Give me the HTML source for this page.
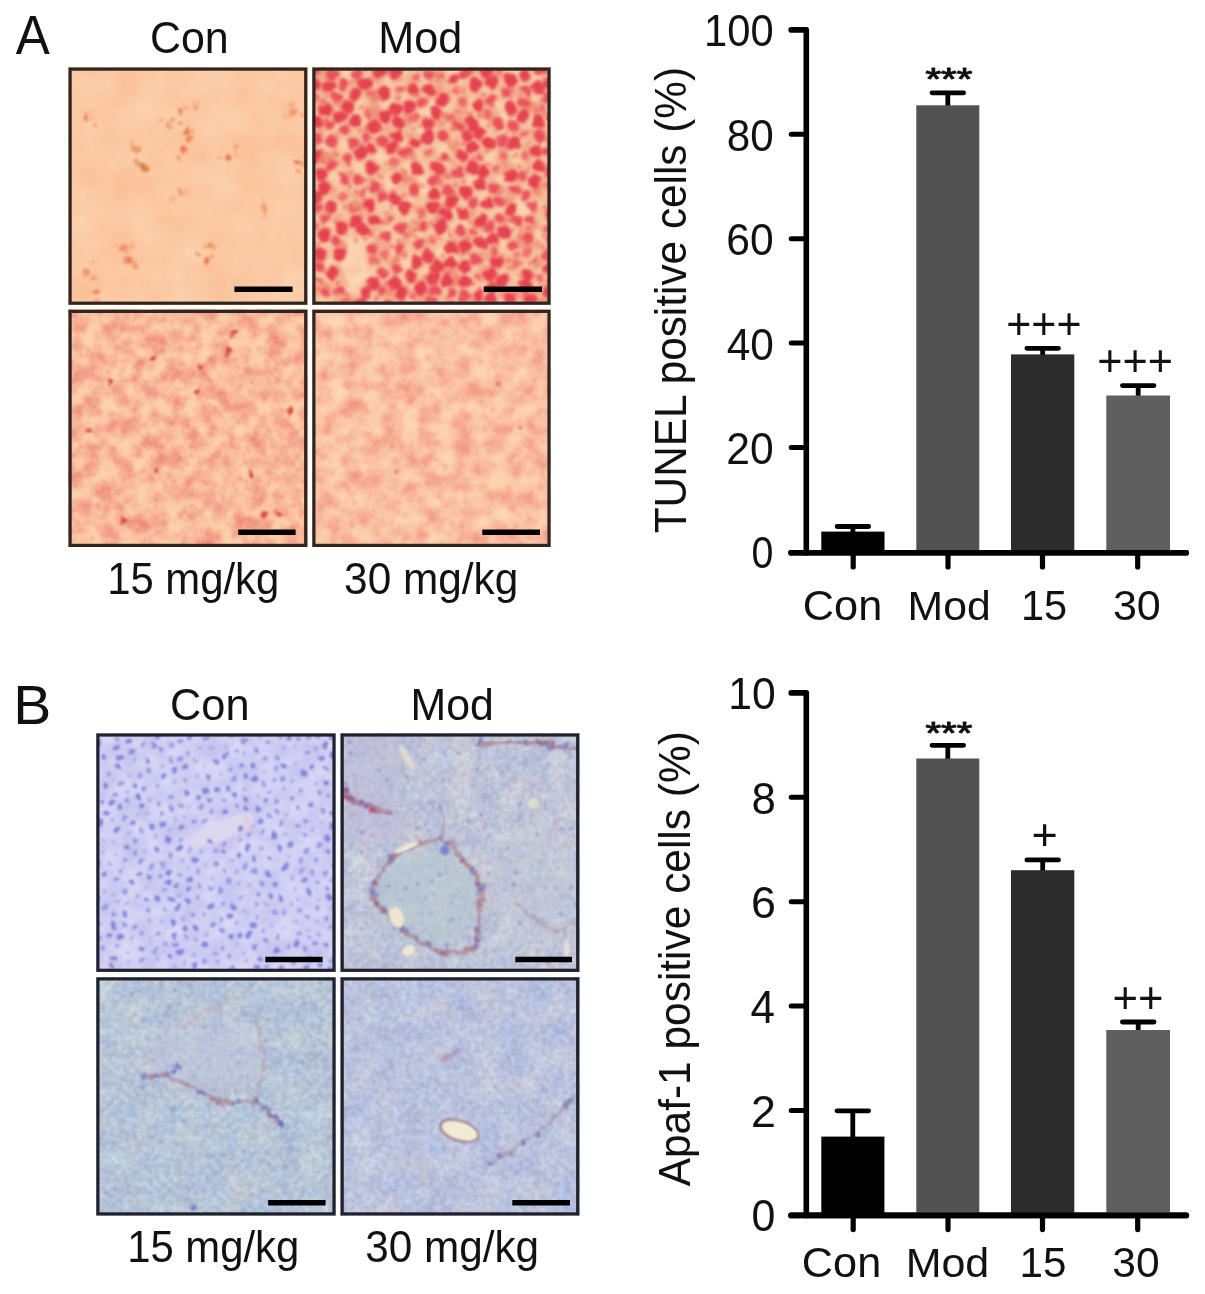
<!DOCTYPE html>
<html lang="en"><head><meta charset="utf-8"><title>Figure</title>
<style>html,body{margin:0;padding:0;background:#fff}svg{display:block}</style></head>
<body>
<svg width="1205" height="1294" viewBox="0 0 1205 1294" font-family="'Liberation Sans', sans-serif" fill="#111">
<defs>
<filter id="fA1" x="0" y="0" width="100%" height="100%" color-interpolation-filters="sRGB">
 <feTurbulence type="fractalNoise" baseFrequency="0.03" numOctaves="3" seed="3"/>
 <feColorMatrix type="matrix" values="0 0 0 0 0.985  0.10 0 0 0 0.738  0.14 0 0 0 0.57  0 0 0 0 1"/>
</filter>
<filter id="fA2" x="0" y="0" width="100%" height="100%" color-interpolation-filters="sRGB">
 <feTurbulence type="fractalNoise" baseFrequency="0.06" numOctaves="2" seed="5"/>
 <feColorMatrix type="matrix" values="1 0 0 0 0  1 0 0 0 0  1 0 0 0 0  0 0 0 0 1"/>
 <feComponentTransfer>
  <feFuncR type="table" tableValues=".93 .935 .94 .95 .96 .97 .975 .98 .985 .985 .985"/>
  <feFuncG type="table" tableValues=".50 .53 .57 .63 .70 .76 .80 .825 .835 .835 .835"/>
  <feFuncB type="table" tableValues=".42 .44 .47 .52 .57 .62 .655 .675 .685 .685 .685"/>
 </feComponentTransfer>
</filter>
<filter id="fA3" x="0" y="0" width="100%" height="100%" color-interpolation-filters="sRGB">
 <feTurbulence type="fractalNoise" baseFrequency="0.06" numOctaves="3" seed="7"/>
 <feColorMatrix type="matrix" values="1 0 0 0 0  1 0 0 0 0  1 0 0 0 0  0 0 0 0 1"/>
 <feComponentTransfer>
  <feFuncR type="table" tableValues=".92 .93 .94 .955 .965 .975 .985 .99 .99 .99 .99"/>
  <feFuncG type="table" tableValues=".50 .54 .58 .63 .68 .73 .775 .81 .825 .83 .83"/>
  <feFuncB type="table" tableValues=".44 .47 .50 .54 .575 .61 .64 .665 .675 .68 .68"/>
 </feComponentTransfer>
</filter>
<filter id="fA4" x="0" y="0" width="100%" height="100%" color-interpolation-filters="sRGB">
 <feTurbulence type="fractalNoise" baseFrequency="0.055" numOctaves="3" seed="11"/>
 <feColorMatrix type="matrix" values="1 0 0 0 0  1 0 0 0 0  1 0 0 0 0  0 0 0 0 1"/>
 <feComponentTransfer>
  <feFuncR type="table" tableValues=".94 .945 .955 .965 .975 .98 .985 .99 .99 .99 .99"/>
  <feFuncG type="table" tableValues=".56 .59 .63 .67 .715 .755 .79 .82 .835 .84 .84"/>
  <feFuncB type="table" tableValues=".49 .515 .545 .575 .61 .64 .665 .685 .695 .70 .70"/>
 </feComponentTransfer>
</filter>
<filter id="fB1" x="0" y="0" width="100%" height="100%" color-interpolation-filters="sRGB">
 <feTurbulence type="fractalNoise" baseFrequency="0.05" numOctaves="3" seed="2"/>
 <feColorMatrix type="matrix" values="0.14 0 0 0 0.745  0.14 0 0 0 0.735  0.05 0 0 0 0.925  0 0 0 0 1"/>
</filter>
<filter id="fB2" x="0" y="0" width="100%" height="100%" color-interpolation-filters="sRGB">
 <feTurbulence type="fractalNoise" baseFrequency="0.04" numOctaves="3" seed="9"/>
 <feColorMatrix type="matrix" values="0.16 0 0 0 0.673  0.12 0.06 0 0 0.683  0 0.06 0 0 0.805  0 0 0 0 1" result="a"/>
 <feTurbulence type="fractalNoise" baseFrequency="0.17" numOctaves="2" seed="4"/>
 <feColorMatrix type="matrix" values="0.16 0 0 0 0  0.16 0 0 0 0  0.16 0 0 0 0.012  0 0 0 0 1" result="g"/>
 <feComposite in="a" in2="g" operator="arithmetic" k1="0" k2="1" k3="1" k4="-0.08"/>
</filter>
<filter id="fB3" x="0" y="0" width="100%" height="100%" color-interpolation-filters="sRGB">
 <feTurbulence type="fractalNoise" baseFrequency="0.04" numOctaves="3" seed="13"/>
 <feColorMatrix type="matrix" values="0.16 0 0 0 0.638  0.12 0.06 0 0 0.683  0 0.06 0 0 0.801  0 0 0 0 1" result="a"/>
 <feTurbulence type="fractalNoise" baseFrequency="0.17" numOctaves="2" seed="5"/>
 <feColorMatrix type="matrix" values="0.16 0 0 0 0  0.16 0 0 0 0  0.16 0 0 0 0.012  0 0 0 0 1" result="g"/>
 <feComposite in="a" in2="g" operator="arithmetic" k1="0" k2="1" k3="1" k4="-0.08"/>
</filter>
<filter id="fB4" x="0" y="0" width="100%" height="100%" color-interpolation-filters="sRGB">
 <feTurbulence type="fractalNoise" baseFrequency="0.04" numOctaves="3" seed="17"/>
 <feColorMatrix type="matrix" values="0.16 0 0 0 0.653  0.12 0.06 0 0 0.675  0 0.06 0 0 0.825  0 0 0 0 1" result="a"/>
 <feTurbulence type="fractalNoise" baseFrequency="0.17" numOctaves="2" seed="6"/>
 <feColorMatrix type="matrix" values="0.16 0 0 0 0  0.16 0 0 0 0  0.16 0 0 0 0.012  0 0 0 0 1" result="g"/>
 <feComposite in="a" in2="g" operator="arithmetic" k1="0" k2="1" k3="1" k4="-0.08"/>
</filter>
<filter id="blob" x="-5%" y="-5%" width="110%" height="110%" color-interpolation-filters="sRGB">
 <feTurbulence type="fractalNoise" baseFrequency="0.09" numOctaves="2" seed="8" result="t"/>
 <feDisplacementMap in="SourceGraphic" in2="t" scale="9" xChannelSelector="R" yChannelSelector="G"/>
 <feGaussianBlur stdDeviation="1.5"/>
</filter>
<filter id="rough" x="-5%" y="-5%" width="110%" height="110%" color-interpolation-filters="sRGB">
 <feTurbulence type="fractalNoise" baseFrequency="0.12" numOctaves="2" seed="21" result="t"/>
 <feDisplacementMap in="SourceGraphic" in2="t" scale="7" xChannelSelector="R" yChannelSelector="G"/>
 <feGaussianBlur stdDeviation="1.3"/>
</filter>
<filter id="bl05" color-interpolation-filters="sRGB"><feGaussianBlur stdDeviation="0.5"/></filter>
<filter id="bl08" color-interpolation-filters="sRGB"><feGaussianBlur stdDeviation="0.9"/></filter>
<filter id="bl1" color-interpolation-filters="sRGB"><feGaussianBlur stdDeviation="1"/></filter>
<filter id="bl15" color-interpolation-filters="sRGB"><feGaussianBlur stdDeviation="1.5"/></filter>
<filter id="bl2" color-interpolation-filters="sRGB"><feGaussianBlur stdDeviation="2.2"/></filter>
<filter id="bl4" color-interpolation-filters="sRGB"><feGaussianBlur stdDeviation="5"/></filter>
</defs>

<clipPath id="cp1"><rect x="69.5" y="68.5" width="236.8" height="235.3"/></clipPath><rect x="68.5" y="67.5" width="238.8" height="237.3" filter="url(#fA1)"/><g clip-path="url(#cp1)"><g transform="translate(68.5 67.5)"><g filter="url(#rough)"><circle cx="112" cy="45" r="2.9" fill="#ec7a54" opacity="0.85"/><circle cx="118" cy="65" r="3.5" fill="#e07a44" opacity="0.85"/><circle cx="115" cy="82" r="4.0" fill="#ee6e50" opacity="0.85"/><circle cx="160" cy="90" r="3.9" fill="#ea7050" opacity="0.85"/><circle cx="76" cy="100" r="3.9" fill="#d87c40" opacity="0.85"/><circle cx="68" cy="82" r="3.9" fill="#e89060" opacity="0.85"/><circle cx="18" cy="50" r="3.0" fill="#f0845c" opacity="0.85"/><circle cx="55" cy="180" r="3.9" fill="#f08a64" opacity="0.85"/><circle cx="60" cy="192" r="3.7" fill="#ee7850" opacity="0.85"/><circle cx="138" cy="192" r="2.7" fill="#ec7450" opacity="0.85"/><circle cx="142" cy="178" r="2.6" fill="#e69050" opacity="0.85"/><circle cx="195" cy="142" r="2.6" fill="#ea9458" opacity="0.85"/><circle cx="225" cy="45" r="3.8" fill="#f09468" opacity="0.85"/><circle cx="230" cy="95" r="3.0" fill="#ee7450" opacity="0.85"/><circle cx="28" cy="225" r="2.8" fill="#ee7850" opacity="0.85"/><circle cx="18" cy="205" r="3.6" fill="#f08a64" opacity="0.85"/><circle cx="112" cy="125" r="3.2" fill="#f0a070" opacity="0.85"/><circle cx="128" cy="40" r="2.7" fill="#f0a478" opacity="0.85"/><circle cx="100" cy="58" r="2.9" fill="#f0a070" opacity="0.85"/><circle cx="105" cy="52" r="2.3" fill="#ec7a54" opacity="0.5"/><circle cx="117" cy="40" r="1.8" fill="#ec7a54" opacity="0.5"/><circle cx="112" cy="44" r="2.0" fill="#ec7a54" opacity="0.5"/><circle cx="121" cy="71" r="2.6" fill="#e07a44" opacity="0.5"/><circle cx="111" cy="56" r="2.2" fill="#e07a44" opacity="0.5"/><circle cx="124" cy="64" r="2.1" fill="#e07a44" opacity="0.5"/><circle cx="120" cy="72" r="2.3" fill="#ee6e50" opacity="0.5"/><circle cx="114" cy="86" r="1.6" fill="#ee6e50" opacity="0.5"/><circle cx="110" cy="91" r="2.1" fill="#ee6e50" opacity="0.5"/><circle cx="167" cy="81" r="2.2" fill="#ea7050" opacity="0.5"/><circle cx="151" cy="91" r="1.9" fill="#ea7050" opacity="0.5"/><circle cx="168" cy="88" r="1.8" fill="#ea7050" opacity="0.5"/><circle cx="71" cy="98" r="2.9" fill="#d87c40" opacity="0.5"/><circle cx="68" cy="94" r="2.3" fill="#d87c40" opacity="0.5"/><circle cx="75" cy="100" r="1.9" fill="#d87c40" opacity="0.5"/><circle cx="63" cy="77" r="2.4" fill="#e89060" opacity="0.5"/><circle cx="63" cy="81" r="2.7" fill="#e89060" opacity="0.5"/><circle cx="64" cy="72" r="1.6" fill="#e89060" opacity="0.5"/><circle cx="24" cy="51" r="1.6" fill="#f0845c" opacity="0.5"/><circle cx="21" cy="44" r="1.8" fill="#f0845c" opacity="0.5"/><circle cx="27" cy="57" r="2.6" fill="#f0845c" opacity="0.5"/><circle cx="48" cy="177" r="1.8" fill="#f08a64" opacity="0.5"/><circle cx="59" cy="184" r="2.6" fill="#f08a64" opacity="0.5"/><circle cx="63" cy="178" r="2.5" fill="#f08a64" opacity="0.5"/><circle cx="66" cy="195" r="2.4" fill="#ee7850" opacity="0.5"/><circle cx="56" cy="194" r="1.9" fill="#ee7850" opacity="0.5"/><circle cx="67" cy="199" r="3.0" fill="#ee7850" opacity="0.5"/><circle cx="138" cy="194" r="2.7" fill="#ec7450" opacity="0.5"/><circle cx="130" cy="187" r="2.3" fill="#ec7450" opacity="0.5"/><circle cx="143" cy="190" r="1.9" fill="#ec7450" opacity="0.5"/><circle cx="136" cy="179" r="2.5" fill="#e69050" opacity="0.5"/><circle cx="146" cy="181" r="2.2" fill="#e69050" opacity="0.5"/><circle cx="140" cy="177" r="2.4" fill="#e69050" opacity="0.5"/><circle cx="195" cy="148" r="2.0" fill="#ea9458" opacity="0.5"/><circle cx="195" cy="140" r="2.5" fill="#ea9458" opacity="0.5"/><circle cx="195" cy="133" r="1.7" fill="#ea9458" opacity="0.5"/><circle cx="217" cy="49" r="2.0" fill="#f09468" opacity="0.5"/><circle cx="234" cy="47" r="3.0" fill="#f09468" opacity="0.5"/><circle cx="223" cy="38" r="2.8" fill="#f09468" opacity="0.5"/><circle cx="230" cy="105" r="2.0" fill="#ee7450" opacity="0.5"/><circle cx="235" cy="96" r="2.8" fill="#ee7450" opacity="0.5"/><circle cx="236" cy="90" r="2.0" fill="#ee7450" opacity="0.5"/><circle cx="28" cy="234" r="2.9" fill="#ee7850" opacity="0.5"/><circle cx="29" cy="224" r="2.6" fill="#ee7850" opacity="0.5"/><circle cx="24" cy="226" r="2.2" fill="#ee7850" opacity="0.5"/><circle cx="26" cy="195" r="2.0" fill="#f08a64" opacity="0.5"/><circle cx="23" cy="211" r="1.6" fill="#f08a64" opacity="0.5"/><circle cx="25" cy="210" r="2.8" fill="#f08a64" opacity="0.5"/><circle cx="118" cy="125" r="1.7" fill="#f0a070" opacity="0.5"/><circle cx="113" cy="124" r="2.7" fill="#f0a070" opacity="0.5"/><circle cx="104" cy="132" r="2.9" fill="#f0a070" opacity="0.5"/><circle cx="129" cy="34" r="2.4" fill="#f0a478" opacity="0.5"/><circle cx="128" cy="40" r="1.8" fill="#f0a478" opacity="0.5"/><circle cx="125" cy="37" r="2.8" fill="#f0a478" opacity="0.5"/><circle cx="101" cy="60" r="3.0" fill="#f0a070" opacity="0.5"/><circle cx="102" cy="57" r="2.6" fill="#f0a070" opacity="0.5"/><circle cx="92" cy="53" r="2.3" fill="#f0a070" opacity="0.5"/></g></g></g><rect x="70.10" y="69.10" width="235.60" height="234.10" fill="none" stroke="#2e2622" stroke-width="3.2"/><path d="M234.4 289.2H292.6" stroke="#000" stroke-width="5.4"/>
<clipPath id="cp2"><rect x="313.3" y="68.5" width="236.3" height="235.3"/></clipPath><rect x="312.3" y="67.5" width="238.3" height="237.3" filter="url(#fA2)"/><g clip-path="url(#cp2)"><g transform="translate(312.3 67.5)"><ellipse cx="43" cy="198" rx="13" ry="20" fill="#fbd6b4" opacity="0.8" filter="url(#bl2)"/><g filter="url(#blob)"><path d="M104 75h0M222 114h0M13 43h0M52 16h0M120 210h0M130 33h0M172 105h0M43 54h0M152 214h0M242 173h0M89 226h0M239 104h0M163 17h0M224 242h0M51 163h0M213 218h0M36 39h0M133 146h0M167 66h0M239 148h0M84 69h0M210 49h0M178 75h0M213 7h0M116 70h0M48 86h0M9 107h0M154 125h0M4 55h0M104 194h0M109 242h0M138 196h0M56 137h0M129 159h0M165 228h0M139 181h0M238 200h0M126 199h0M92 140h0M124 45h0M9 186h0M179 232h0M242 49h0M62 59h0M150 89h0M169 176h0M165 38h0M152 198h0M4 129h0M160 100h0M191 213h0M198 108h0M82 216h0M198 142h0M67 4h0M198 40h0M192 165h0M153 241h0M218 231h0M72 25h0M19 140h0M104 102h0M197 231h0M116 189h0M175 136h0M202 75h0M168 117h0M236 225h0M2 18h0M116 23h0M226 19h0M150 146h0M242 129h0M62 152h0M76 240h0M226 54h0M181 172h0M60 101h0M238 16h0M160 56h0M97 39h0M20 205h0M135 213h0M121 140h0M2 89h0M226 99h0M48 236h0M83 131h0M180 220h0M173 3h0M225 83h0M160 80h0M84 42h0M178 207h0M99 208h0M184 195h0M62 215h0M153 179h0M241 71h0M198 12h0M115 57h0M27 50h0M168 153h0M122 126h0M140 134h0M29 160h0M179 15h0M125 101h0M86 55h0M84 111h0M101 21h0M27 186h0M82 4h0M12 120h0M73 48h0M215 206h0M109 220h0M141 11h0M154 68h0M80 81h0M44 27h0M54 225h0M59 81h0M12 169h0M16 18h0M42 154h0M106 177h0M74 168h0M205 152h0M178 159h0M187 133h0M90 240h0M235 188h0M62 241h0M213 129h0M179 32h0M240 213h0M162 137h0M190 74h0M121 113h0M84 202h0M212 36h0M5 3h0M70 130h0M110 158h0M229 3h0M193 25h0M131 68h0M116 6h0M214 23h0M88 181h0M45 112h0M186 150h0M235 30h0M14 225h0M186 55h0M3 240h0M22 7h0M25 29h0M36 92h0M133 90h0M146 59h0M70 205h0M200 58h0M7 199h0M61 180h0M53 69h0M17 57h0M138 240h0M240 117h0M201 178h0M92 86h0M181 121h0M190 241h0M218 152h0M146 105h0M139 226h0M119 234h0M18 98h0M210 109h0M237 239h0M151 229h0M152 6h0M32 112h0M221 139h0M41 75h0M217 170h0M31 17h0M148 163h0M89 161h0M71 224h0M237 84h0M202 122h0M44 6h0M6 71h0M27 223h0M62 119h0M102 123h0M25 173h0M135 123h0M211 241h0M13 152h0M5 141h0M70 74h0M109 35h0M33 62h0M19 75h0M227 68h0M163 192h0M124 223h0M40 142h0M166 209h0M213 87h0M202 196h0M31 129h0M77 152h0M60 193h0M72 188h0M55 45h0M212 67h0M223 194h0M149 35h0M101 51h0M5 212h0M168 90h0M81 95h0M101 228h0M20 240h0M180 184h0M109 145h0M59 27h0M213 185h0M4 30h0M191 89h0M175 46h0M104 9h0M3 159h0M187 4h0M144 24h0M116 84h0M227 210h0M129 8h0M162 165h0M234 162h0M139 49h0M33 234h0M87 22h0M230 41h0M167 240h0M184 100h0M50 125h0M119 174h0" stroke="#f08070" stroke-width="16" stroke-linecap="round" fill="none" opacity="0.18"/><path d="M104 75h0M222 114h0M13 43h0M52 16h0M120 210h0M130 33h0M172 105h0M43 54h0M152 214h0M242 173h0M89 226h0M239 104h0M163 17h0M224 242h0M51 163h0M213 218h0M36 39h0M133 146h0M167 66h0M239 148h0M84 69h0M210 49h0M178 75h0M213 7h0M116 70h0M48 86h0M9 107h0M154 125h0M4 55h0M104 194h0M109 242h0M138 196h0M56 137h0M129 159h0M165 228h0M139 181h0M238 200h0M126 199h0M92 140h0M124 45h0M9 186h0M179 232h0M242 49h0M62 59h0M150 89h0M169 176h0M165 38h0M152 198h0M4 129h0M160 100h0M191 213h0M198 108h0M82 216h0M198 142h0M67 4h0M198 40h0M192 165h0M153 241h0M218 231h0M72 25h0M19 140h0M104 102h0M197 231h0M116 189h0M175 136h0M202 75h0M168 117h0M236 225h0M2 18h0M116 23h0M226 19h0M150 146h0M242 129h0M62 152h0M76 240h0M226 54h0M181 172h0M60 101h0M238 16h0M160 56h0M97 39h0M20 205h0M135 213h0M121 140h0M2 89h0M226 99h0M48 236h0M83 131h0M180 220h0M173 3h0M225 83h0M160 80h0M84 42h0M178 207h0M99 208h0M184 195h0M62 215h0M153 179h0M241 71h0M198 12h0M115 57h0M27 50h0M168 153h0M122 126h0M140 134h0M29 160h0M179 15h0M125 101h0M86 55h0M84 111h0M101 21h0M27 186h0M82 4h0M12 120h0M73 48h0M215 206h0M109 220h0M141 11h0M154 68h0M80 81h0M44 27h0M54 225h0M59 81h0M12 169h0M16 18h0M42 154h0" stroke="#e53c4e" stroke-width="12.6" stroke-linecap="round" fill="none" opacity="0.95"/><path d="M106 177h0M74 168h0M205 152h0M178 159h0M187 133h0M90 240h0M235 188h0M62 241h0M213 129h0M179 32h0M240 213h0M162 137h0M190 74h0M121 113h0M84 202h0M212 36h0M5 3h0M70 130h0M110 158h0M229 3h0M193 25h0M131 68h0M116 6h0M214 23h0M88 181h0M45 112h0M186 150h0M235 30h0M14 225h0M186 55h0M3 240h0M22 7h0M25 29h0M36 92h0M133 90h0M146 59h0M70 205h0M200 58h0M7 199h0M61 180h0M53 69h0M17 57h0M138 240h0M240 117h0M201 178h0M92 86h0M181 121h0M190 241h0M218 152h0M146 105h0M139 226h0M119 234h0M18 98h0M210 109h0M237 239h0M151 229h0M152 6h0M32 112h0M221 139h0M41 75h0M217 170h0M31 17h0M148 163h0M89 161h0M71 224h0M237 84h0M202 122h0M44 6h0M6 71h0M27 223h0M62 119h0M102 123h0M25 173h0M135 123h0M211 241h0M13 152h0M5 141h0M70 74h0M109 35h0M33 62h0M19 75h0M227 68h0M163 192h0M124 223h0" stroke="#e8485a" stroke-width="10.4" stroke-linecap="round" fill="none" opacity="0.9"/><path d="M40 142h0M166 209h0M213 87h0M202 196h0M31 129h0M77 152h0M60 193h0M72 188h0M55 45h0M212 67h0M223 194h0M149 35h0M101 51h0M5 212h0M168 90h0M81 95h0M101 228h0M20 240h0M180 184h0M109 145h0M59 27h0M213 185h0M4 30h0M191 89h0M175 46h0M104 9h0M3 159h0M187 4h0M144 24h0M116 84h0M227 210h0M129 8h0M162 165h0M234 162h0M139 49h0M33 234h0M87 22h0M230 41h0M167 240h0M184 100h0M50 125h0M119 174h0" stroke="#ee6468" stroke-width="8.0" stroke-linecap="round" fill="none" opacity="0.85"/></g><g filter="url(#blob)"><path d="M73 3h0M163 232h0M153 34h0M232 47h0M236 205h0M10 34h0M116 224h0M105 142h0M182 233h0M40 80h0M100 62h0M228 233h0M101 197h0M114 208h0M171 35h0M92 129h0M199 46h0M180 200h0M126 115h0M47 13h0M196 8h0M22 26h0M126 225h0M235 141h0M176 124h0M227 77h0M38 234h0M112 158h0M6 177h0M164 99h0M74 216h0M143 217h0M16 103h0M130 188h0M142 54h0M85 174h0M158 47h0M38 72h0M84 210h0M48 40h0M208 36h0M68 63h0M229 101h0M168 89h0M48 93h0M223 121h0M32 88h0M138 208h0M11 92h0M66 123h0M7 85h0M152 113h0M31 14h0M198 54h0M216 176h0M80 151h0M57 81h0M129 100h0M95 224h0M161 165h0M214 104h0M151 225h0M208 208h0M133 47h0M209 171h0M195 78h0M6 42h0M94 208h0M21 138h0M137 108h0M236 161h0M221 205h0M155 128h0M15 28h0M143 7h0M149 162h0M63 57h0M76 43h0M234 72h0M43 124h0M221 229h0M233 12h0M145 44h0M66 219h0M65 231h0M92 188h0M237 214h0M79 140h0M174 206h0M102 153h0M24 215h0M57 228h0M157 154h0M45 142h0M33 46h0M121 56h0M113 50h0M197 201h0M82 124h0M23 228h0M203 13h0M79 222h0M206 149h0M157 186h0M177 58h0M95 92h0M85 192h0M181 75h0M19 70h0M24 208h0M204 227h0M155 171h0M17 21h0M49 78h0M31 175h0M79 70h0M125 169h0M79 179h0M171 137h0M194 193h0M138 79h0M200 163h0M121 97h0M152 24h0M14 123h0M229 32h0M21 55h0M36 119h0M43 173h0M120 202h0M104 49h0M30 234h0M138 32h0M207 100h0M40 14h0M103 122h0M202 65h0M63 187h0M183 210h0M115 184h0M6 223h0M156 53h0M236 4h0M49 150h0M119 14h0M114 36h0M5 197h0M132 68h0M174 198h0M186 137h0M115 26h0M216 161h0M69 110h0M90 21h0M7 102h0M138 169h0M182 168h0M135 198h0M194 65h0M58 11h0M162 12h0M138 93h0M33 227h0M113 62h0M19 8h0M46 63h0M199 31h0M53 172h0M186 57h0M65 195h0M190 124h0M92 138h0M188 84h0M83 47h0M181 185h0M161 21h0M176 97h0M153 209h0M94 166h0M148 232h0M107 59h0M130 163h0M73 193h0M140 61h0M86 31h0M169 170h0M76 235h0M57 214h0M220 153h0M102 236h0M124 145h0M34 34h0M162 115h0M135 181h0M109 226h0M235 19h0M152 76h0M65 31h0M122 211h0M53 62h0M152 7h0M103 169h0M60 88h0M88 233h0M92 157h0M69 170h0M174 82h0M64 99h0M32 165h0M51 111h0M181 13h0M167 223h0M103 27h0M103 213h0M197 22h0M237 101h0M126 138h0M10 56h0M203 89h0M217 10h0M109 118h0M39 41h0M77 167h0M205 188h0M100 42h0M172 27h0M23 153h0M10 22h0M27 108h0M159 4h0M25 46h0M140 127h0M155 104h0M232 84h0M187 190h0M126 91h0M144 119h0M2 79h0M57 49h0M33 140h0M13 203h0M162 35h0M88 80h0M22 86h0M201 143h0M60 179h0M233 169h0M122 6h0M160 216h0M13 140h0M210 52h0M156 199h0M40 151h0M199 153h0M153 69h0M76 78h0M170 149h0M163 158h0M74 96h0M102 11h0M180 220h0M60 70h0M161 92h0M167 47h0M86 73h0M17 146h0M218 194h0M208 196h0M124 193h0M140 235h0M96 84h0M105 162h0M223 43h0M4 6h0M180 38h0M223 24h0M23 35h0M120 157h0M220 64h0M70 153h0M54 119h0M39 103h0M208 217h0M52 131h0M91 103h0M237 127h0M7 216h0M227 5h0M137 135h0M58 166h0M77 131h0M205 111h0" stroke="#ec5050" stroke-width="5.2" stroke-linecap="round" fill="none" opacity="0.5"/></g></g></g><rect x="313.90" y="69.10" width="235.10" height="234.10" fill="none" stroke="#2e2622" stroke-width="3.2"/><path d="M483.8 289.2H542" stroke="#000" stroke-width="5.4"/>
<clipPath id="cp3"><rect x="69.5" y="310.8" width="236.8" height="235.2"/></clipPath><rect x="68.5" y="309.8" width="238.8" height="237.2" filter="url(#fA3)"/><g clip-path="url(#cp3)"><g transform="translate(68.5 309.8)"><g filter="url(#rough)"><path d="M165 22h0M85 48h0M132 58h0M128 82h0M42 72h0M88 160h0M55 210h0M195 205h0M210 205h0M222 100h0M183 165h0M160 40h0M20 120h0" stroke="#cc4034" stroke-width="5.6" stroke-linecap="round" fill="none" opacity="0.85"/><path d="M163 26h0M83 50h0M130 56h0M131 80h0M43 72h0M88 160h0M53 213h0M193 203h0M207 203h0M221 103h0M182 162h0M159 44h0M17 121h0" stroke="#d85040" stroke-width="4.4" stroke-linecap="round" fill="none" opacity="0.7"/></g><g filter="url(#bl15)"><path d="M91 157h0M119 154h0M214 138h0M35 17h0M224 116h0M48 223h0M138 173h0M209 69h0M86 207h0M34 181h0M25 164h0M167 224h0M200 120h0M48 37h0M126 121h0M19 213h0M54 59h0M5 82h0M65 101h0M211 43h0M95 41h0M49 181h0M73 5h0M182 82h0M42 104h0M107 100h0M140 70h0M27 124h0M87 191h0M232 17h0M6 35h0M93 136h0M229 3h0M198 51h0M208 10h0M229 180h0M235 138h0M106 22h0M144 118h0M113 38h0M31 138h0M105 172h0M170 112h0M95 86h0M172 168h0M146 7h0M88 103h0M24 228h0M168 49h0M56 125h0M177 153h0M4 145h0M220 232h0M131 231h0M89 222h0M149 226h0M70 145h0M200 162h0M195 144h0M30 196h0M66 70h0M67 210h0M178 60h0M197 88h0M185 188h0M185 234h0M163 22h0M111 205h0M215 219h0M218 203h0M156 88h0M124 29h0M40 62h0M186 25h0M236 220h0M33 78h0M146 99h0M117 88h0M75 161h0M95 10h0M148 36h0M45 138h0M143 155h0M234 86h0M224 154h0M57 87h0M10 56h0M154 186h0M76 231h0M5 192h0M2 231h0M115 233h0M215 101h0M49 8h0M51 164h0M206 185h0M112 54h0M142 49h0M164 134h0M235 35h0M199 218h0M30 92h0M107 142h0M237 67h0M76 116h0M181 208h0M191 39h0M31 45h0M182 9h0M84 30h0M123 136h0M106 67h0M73 53h0" stroke="#e87860" stroke-width="5.2" stroke-linecap="round" fill="none" opacity="0.35"/></g></g></g><rect x="70.10" y="311.40" width="235.60" height="234.00" fill="none" stroke="#2e2622" stroke-width="3.2"/><path d="M238.2 532.3H295.6" stroke="#000" stroke-width="5.4"/>
<clipPath id="cp4"><rect x="313.3" y="310.8" width="236.3" height="235.2"/></clipPath><rect x="312.3" y="309.8" width="238.3" height="237.2" filter="url(#fA4)"/><g clip-path="url(#cp4)"><g transform="translate(312.3 309.8)"><g filter="url(#bl15)"><path d="M114 156h0M159 35h0M5 90h0M66 192h0M164 143h0M133 157h0M36 105h0M40 214h0M16 194h0M20 163h0M81 97h0M200 6h0M16 216h0M122 23h0M234 224h0M34 75h0M166 14h0M42 193h0M142 114h0M92 9h0M173 228h0M231 157h0M164 160h0M29 57h0M87 122h0M192 119h0M54 102h0M93 183h0M26 131h0M44 165h0M11 67h0M83 151h0M14 109h0M51 68h0M114 226h0M88 46h0M183 82h0M59 4h0M11 147h0M198 152h0M56 125h0M64 224h0M212 40h0M168 52h0M69 62h0M101 58h0M218 227h0M181 100h0M140 213h0M187 138h0M214 189h0M128 187h0M85 75h0M35 23h0M181 156h0M222 88h0M159 82h0M224 4h0M231 132h0M119 86h0M74 34h0M93 206h0M32 152h0M147 64h0M98 91h0M192 42h0M5 42h0M219 117h0M145 178h0M17 27h0M147 228h0M228 177h0M59 22h0M115 173h0M196 179h0M116 48h0M138 91h0M236 79h0M120 110h0M222 71h0M57 48h0M170 178h0M173 119h0M94 228h0M199 100h0M204 215h0M199 198h0M125 133h0M161 205h0" stroke="#f08c78" stroke-width="6.4" stroke-linecap="round" fill="none" opacity="0.35"/></g><g filter="url(#bl1)"><path d="M208 118h0M186 74h0M84 162h0" stroke="#c8703c" stroke-width="4" stroke-linecap="round" fill="none" opacity="0.7"/></g></g></g><rect x="313.90" y="311.40" width="235.10" height="234.00" fill="none" stroke="#2e2622" stroke-width="3.2"/><path d="M482.3 532.3H540" stroke="#000" stroke-width="5.4"/>
<clipPath id="cp5"><rect x="97.3" y="734.4" width="237.3" height="236.5"/></clipPath><rect x="96.3" y="733.4" width="239.3" height="238.5" filter="url(#fB1)"/><g clip-path="url(#cp5)"><g transform="translate(96.3 733.4)"><path d="M92 106Q108 92 150 78Q160 80 156 92Q132 108 102 114Q92 114 92 106Z" fill="#dcd7ee" filter="url(#bl15)"/><path d="M148 82L156 96" stroke="#e0b8c8" stroke-width="2" opacity="0.7" filter="url(#bl1)"/><g filter="url(#rough)"><path d="M233 164h0M129 22h0M13 202h0M81 152h0M134 183h0M36 149h0M86 95h0M212 158h0M233 236h0M210 235h0M174 163h0M119 29h0M159 45h0M99 127h0M113 66h0M50 166h0M81 174h0M17 192h0M143 121h0M163 225h0M138 173h0M160 234h0M137 235h0M54 144h0M234 3h0M23 203h0M230 50h0M42 63h0M24 74h0M83 115h0M120 131h0M15 233h0M236 92h0M224 231h0M214 71h0M156 32h0M10 79h0M17 225h0M236 79h0M19 15h0M8 24h0M91 168h0M185 164h0M21 33h0M189 134h0M61 165h0M31 113h0M179 151h0M225 25h0M129 78h0M78 190h0M78 37h0M185 235h0M92 155h0M8 141h0M149 75h0M68 43h0M231 106h0M3 89h0M114 173h0M24 24h0M29 181h0M109 57h0M98 233h0M93 146h0M99 195h0M33 8h0M75 166h0M84 219h0M153 201h0M72 149h0M188 33h0M132 55h0M46 72h0M157 192h0M73 223h0M38 52h0M139 62h0M121 57h0M62 3h0M229 12h0M112 45h0M178 101h0M157 125h0M52 27h0M151 114h0M15 69h0M180 217h0M55 93h0M9 52h0M94 3h0M72 139h0M36 90h0M208 146h0M230 211h0M172 141h0M165 87h0M46 216h0M208 40h0M201 210h0M72 106h0M2 8h0M67 91h0M192 3h0M89 34h0M109 211h0M236 22h0M135 203h0M232 119h0M149 66h0M21 97h0M127 119h0M57 12h0M163 76h0M215 33h0M102 64h0M61 116h0M144 95h0M35 18h0M195 111h0M158 214h0M113 109h0M144 202h0M150 43h0M78 202h0M184 115h0M90 60h0M43 141h0M196 228h0M89 195h0" stroke="#7c78d6" stroke-width="5.6" stroke-linecap="round" fill="none" opacity="0.85"/><path d="M116 192h0M140 18h0M205 137h0M4 205h0M173 83h0M102 138h0M205 127h0M107 227h0M221 176h0M148 7h0M64 144h0M236 227h0M210 117h0M46 96h0M46 11h0M29 127h0M84 8h0M212 204h0M35 205h0M119 117h0M17 181h0M25 50h0M115 78h0M128 109h0M221 149h0M132 223h0M166 150h0M91 20h0M108 88h0M237 132h0M84 71h0M75 75h0M209 215h0M203 177h0M120 220h0M84 106h0M128 67h0M163 160h0M7 214h0M230 155h0M166 99h0M216 140h0M211 19h0M223 111h0M134 2h0M125 187h0M76 12h0M83 142h0M220 15h0M28 157h0M149 133h0M179 226h0M74 123h0M183 4h0M186 46h0M9 174h0M44 128h0M124 157h0M188 178h0M138 45h0M90 204h0M173 59h0M89 47h0M19 61h0M68 212h0M13 131h0M63 70h0M48 55h0M133 148h0M21 213h0M182 203h0M236 194h0M41 163h0M8 158h0M211 184h0M20 6h0M167 197h0M179 180h0M102 164h0M159 171h0M212 5h0M127 215h0M67 131h0M192 214h0M229 36h0M31 68h0M170 68h0M38 193h0M44 42h0M219 210h0M181 25h0M152 101h0M197 64h0M221 128h0M114 155h0M205 57h0M169 206h0M79 211h0M2 165h0M202 74h0M179 36h0M203 5h0M226 77h0M167 50h0M97 180h0M105 75h0M74 26h0M201 93h0M185 90h0M228 140h0M181 78h0M102 152h0M134 36h0M46 227h0M68 157h0M29 84h0M29 192h0M165 114h0M76 63h0M60 217h0M169 25h0M12 41h0M122 230h0M3 190h0M24 138h0M52 176h0M209 87h0M6 70h0M213 226h0M223 59h0M128 137h0M45 200h0M126 172h0M83 26h0M173 125h0M172 9h0M69 175h0M55 133h0M158 138h0M53 39h0M65 80h0M232 62h0M140 73h0M110 5h0M160 16h0M208 102h0M221 3h0M19 146h0M98 87h0M65 16h0M62 200h0M180 68h0M236 147h0M109 181h0M171 234h0M125 197h0M39 107h0M146 33h0M177 46h0M229 184h0M38 120h0M202 200h0M162 183h0" stroke="#8480da" stroke-width="4.6" stroke-linecap="round" fill="none" opacity="0.72"/><path d="M50 154h0M53 67h0M31 170h0M189 102h0M93 134h0M6 119h0M85 127h0M16 87h0M53 187h0M194 171h0M157 93h0M100 206h0M190 81h0M17 108h0M101 42h0M188 194h0M86 186h0M223 221h0M33 100h0M223 202h0M142 150h0M110 201h0M18 122h0M188 15h0M131 13h0M17 161h0M152 151h0M61 53h0M49 118h0M22 169h0M78 86h0M99 28h0M32 229h0M147 219h0M149 20h0M236 175h0M220 49h0M41 82h0M65 188h0M124 40h0M222 167h0M103 15h0M31 58h0M198 30h0M77 234h0M171 106h0M199 14h0M58 103h0M108 131h0M169 39h0M106 119h0M196 49h0M226 88h0M75 97h0M217 96h0M54 206h0M117 145h0M122 3h0M149 56h0M50 80h0M194 144h0M143 164h0M108 32h0M66 33h0M115 15h0M88 83h0M150 227h0M164 3h0M175 192h0M135 127h0M8 107h0M78 48h0M39 26h0M199 188h0M143 106h0M5 227h0M199 156h0M162 63h0M32 42h0M140 211h0M31 219h0M98 221h0M149 179h0M83 162h0M220 189h0M192 122h0M89 229h0M93 74h0M2 38h0M140 138h0M169 171h0M93 116h0M203 166h0M61 226h0M4 129h0M140 190h0M189 56h0M212 195h0" stroke="#9490e2" stroke-width="3.6" stroke-linecap="round" fill="none" opacity="0.6"/></g></g></g><rect x="97.90" y="735.00" width="236.10" height="235.30" fill="none" stroke="#22222c" stroke-width="3.2"/><path d="M265.3 959.5H322.6" stroke="#000" stroke-width="5.4"/>
<clipPath id="cp6"><rect x="341.6" y="734.4" width="236.7" height="236.5"/></clipPath><rect x="340.6" y="733.4" width="238.7" height="238.5" filter="url(#fB2)"/><g clip-path="url(#cp6)"><g transform="translate(340.6 733.4)"><ellipse cx="88" cy="165" rx="52" ry="52" fill="#b6c8d0" opacity="0.6" filter="url(#bl4)"/><ellipse cx="190" cy="150" rx="40" ry="60" fill="#c4cad6" opacity="0.4" filter="url(#bl4)"/><rect x="0" y="0" width="60" height="110" fill="#bcb8d8" opacity="0.5" filter="url(#bl4)"/><g filter="url(#bl08)"><path d="M6 29h0M95 162h0M35 29h0M57 179h0M37 175h0M157 35h0M128 107h0M99 234h0M25 8h0M222 96h0M49 80h0M88 225h0M52 53h0M139 130h0M225 198h0M86 50h0M198 232h0M10 174h0M205 154h0M54 188h0M173 48h0M152 54h0M13 81h0M81 95h0M154 197h0M227 230h0M234 186h0M74 44h0M148 130h0M160 25h0M48 217h0M143 164h0M25 96h0M215 154h0M234 49h0M109 189h0M107 186h0M134 30h0M26 231h0M31 48h0M81 169h0M202 113h0M119 186h0M68 89h0M146 151h0M12 29h0M35 171h0M164 229h0M182 62h0M181 232h0M84 6h0M90 69h0M44 13h0M32 204h0M15 145h0M51 48h0M194 72h0M46 109h0M165 125h0M203 96h0M125 169h0M111 169h0M112 34h0M32 185h0M177 222h0M164 138h0M42 201h0M31 102h0M36 91h0M75 102h0M169 129h0M60 184h0M174 195h0M11 146h0M212 63h0M50 192h0M88 96h0M194 92h0M49 53h0M84 165h0M89 182h0M18 61h0M149 114h0M119 220h0M68 45h0M11 115h0M72 113h0M4 3h0M91 179h0M73 215h0M138 97h0M184 57h0M144 199h0M129 77h0M25 136h0M47 90h0M129 221h0M160 123h0M203 75h0M93 160h0M132 54h0M99 194h0M59 167h0M14 224h0M162 78h0M232 188h0M17 61h0M118 235h0M36 14h0M76 13h0M98 128h0M106 36h0M8 189h0M106 114h0M114 162h0M213 195h0M172 82h0M42 24h0M203 16h0M136 214h0M78 93h0M100 222h0M162 198h0M12 172h0M108 96h0M193 174h0M215 174h0M215 102h0M133 185h0M109 35h0M139 205h0M206 32h0M92 56h0M82 226h0M101 76h0M67 105h0M159 82h0M46 55h0M64 213h0M42 178h0M28 185h0M65 184h0M104 21h0M25 189h0M129 116h0M85 163h0M115 17h0M143 76h0M200 130h0M183 31h0M168 145h0M201 208h0M131 140h0M182 64h0M130 186h0M142 129h0M202 229h0M63 20h0M146 37h0M229 113h0M127 193h0M206 36h0M109 45h0M110 34h0M207 86h0M94 211h0M195 81h0M119 157h0M47 35h0M203 41h0M168 174h0M141 83h0M203 185h0M20 211h0M151 70h0M42 26h0M192 200h0M84 45h0M20 99h0M72 15h0M72 194h0M18 97h0M123 41h0M11 20h0M37 229h0M204 167h0M213 78h0M61 205h0M144 217h0M87 99h0M170 208h0M42 64h0M6 133h0M218 135h0M38 163h0M154 27h0M216 156h0M117 83h0M40 112h0M88 57h0M154 157h0M225 228h0M112 169h0M90 104h0M135 231h0M13 110h0M81 190h0M224 113h0M22 141h0M140 161h0M184 110h0M131 181h0M9 59h0M163 230h0M223 68h0M230 68h0M108 40h0M143 94h0M163 225h0M33 156h0M143 67h0M11 221h0M165 148h0M27 212h0M96 111h0M133 106h0M225 111h0M161 182h0M220 43h0M82 223h0M144 89h0M208 31h0M62 19h0M159 116h0M74 105h0M62 168h0M180 92h0M205 13h0M135 39h0M30 133h0M23 20h0M34 90h0M196 70h0M31 181h0M193 234h0M14 41h0M104 233h0M129 208h0M55 112h0M163 56h0M125 194h0M193 165h0M196 234h0M144 61h0M55 16h0M217 136h0M143 205h0M164 94h0M139 22h0M62 83h0M188 156h0M144 95h0M85 92h0M15 87h0M215 192h0M61 119h0M176 49h0M86 139h0M47 214h0M7 207h0M159 95h0M70 204h0M169 52h0M77 25h0M149 101h0M77 166h0M62 36h0M188 209h0M191 133h0M170 203h0M12 72h0M86 173h0M81 180h0M63 223h0M104 140h0M149 194h0M134 52h0M106 134h0M20 195h0M75 217h0M90 224h0M171 94h0M166 3h0M23 138h0M75 97h0M167 113h0M146 175h0M198 28h0M196 175h0M56 22h0" stroke="#9096cc" stroke-width="2.8" stroke-linecap="round" fill="none" opacity="0.4"/><path d="M48 24h0M136 234h0M116 67h0M43 229h0M130 58h0M215 100h0M232 122h0M62 46h0M7 192h0M79 172h0M199 96h0M122 170h0M153 87h0M49 69h0M8 150h0M152 183h0M105 173h0M133 201h0M131 159h0M143 50h0M21 193h0M164 121h0M216 45h0M174 120h0M28 33h0M9 47h0M184 114h0M14 118h0M230 186h0M73 115h0M89 57h0M156 8h0M113 218h0M179 155h0M197 224h0M66 222h0M211 118h0M35 127h0M119 234h0M60 170h0M180 142h0M69 213h0M62 202h0M210 126h0M15 66h0M18 46h0M86 136h0M190 14h0M176 29h0M169 5h0M86 218h0M207 15h0M93 215h0M44 109h0M64 72h0M117 35h0M39 229h0M181 142h0M35 34h0M148 146h0M5 227h0M91 65h0M151 215h0M84 121h0M14 111h0M212 221h0M85 203h0M235 73h0M202 68h0M228 212h0M229 98h0M163 166h0M139 15h0M158 189h0M153 212h0M227 152h0M86 121h0M45 55h0M231 105h0M112 209h0M189 13h0M99 126h0M58 180h0M147 200h0M34 46h0M74 123h0M62 122h0M84 17h0M195 129h0M213 124h0M203 144h0M118 221h0M87 230h0M140 223h0M25 128h0M76 193h0M215 202h0M93 20h0M230 51h0M195 140h0M173 167h0M58 93h0M93 166h0M161 233h0M128 84h0M31 106h0M142 163h0M10 49h0M151 185h0M223 35h0M173 107h0M141 162h0M98 144h0M228 8h0M131 235h0M207 61h0M185 215h0M98 131h0M72 234h0M46 166h0M234 229h0M201 104h0M222 202h0M101 90h0M80 78h0M136 100h0M226 3h0M144 103h0M236 234h0M169 172h0M91 165h0M60 192h0M137 57h0M52 93h0M84 157h0M111 11h0M79 108h0M234 218h0M147 227h0M38 51h0M38 62h0M68 128h0M210 85h0M78 112h0M224 121h0M232 74h0M132 149h0M171 197h0M31 51h0M28 183h0M118 118h0M11 189h0M229 6h0M233 115h0M30 10h0M166 189h0M99 205h0M4 205h0M40 46h0M81 80h0M212 120h0M103 191h0M104 75h0M84 138h0M215 218h0M8 88h0M166 118h0M174 221h0M14 165h0M59 154h0M47 36h0M201 155h0M152 103h0M62 18h0M224 187h0M178 21h0M6 111h0M26 145h0M75 183h0M41 119h0M99 57h0M80 47h0M73 106h0M94 156h0M208 120h0M50 121h0M38 198h0M7 69h0M219 138h0M83 11h0M45 197h0M21 164h0M41 179h0M29 33h0M49 224h0M7 114h0M215 160h0M7 157h0M75 54h0M34 29h0M134 178h0M213 151h0M105 215h0M42 217h0M232 128h0M177 146h0M166 161h0M164 160h0M116 47h0M81 79h0M163 34h0M164 113h0M218 101h0M177 37h0M36 201h0M194 60h0M101 180h0M22 161h0M165 224h0M235 183h0M30 193h0M40 68h0M193 118h0M102 208h0M201 72h0M198 233h0M162 54h0M127 133h0M69 176h0M31 42h0M224 82h0M38 184h0M190 105h0M117 5h0M7 213h0M225 170h0M163 97h0M74 172h0M187 22h0M30 19h0" stroke="#dce2e8" stroke-width="3.0" stroke-linecap="round" fill="none" opacity="0.4"/><path d="M167 115h0M21 119h0M221 181h0M173 151h0M49 129h0M107 221h0M9 9h0M10 20h0M77 151h0M179 190h0M22 99h0M140 81h0M66 43h0M84 26h0M236 171h0M224 17h0M29 155h0M230 96h0M76 95h0M4 50h0M38 37h0M230 154h0M197 101h0M128 88h0M111 186h0M161 39h0M65 155h0M121 128h0M14 69h0M106 212h0M230 23h0M102 47h0M99 142h0M175 139h0M148 140h0M46 47h0M118 20h0M91 148h0M207 229h0M137 36h0M136 161h0M54 195h0M48 153h0M224 200h0M179 71h0" stroke="#6f78c8" stroke-width="3.6" stroke-linecap="round" fill="none" opacity="0.5"/></g><path d="M30 159L40 139L52 123L78 111L100 105L111 111L119 123L135 139L141 159L139 179L137 199L135 215L119 219L100 219L80 209L66 199L50 185L36 169L30 159" stroke="#a4707e" stroke-width="4.2" fill="none" opacity="0.55" stroke-linejoin="round" stroke-linecap="round" filter="url(#rough)"/><path d="M100 105L104 86L98 70" stroke="#a4707e" stroke-width="3" fill="none" opacity="0.35" stroke-linejoin="round" stroke-linecap="round" filter="url(#rough)"/><path d="M3 55L8 66L26 72L50 80" stroke="#a4707e" stroke-width="5" fill="none" opacity="0.6" stroke-linejoin="round" stroke-linecap="round" filter="url(#rough)"/><path d="M139 10L170 8L200 10L235 16" stroke="#a4707e" stroke-width="4.5" fill="none" opacity="0.55" stroke-linejoin="round" stroke-linecap="round" filter="url(#rough)"/><path d="M175 169L199 189L219 199L235 189" stroke="#a4707e" stroke-width="3.2" fill="none" opacity="0.32" stroke-linejoin="round" stroke-linecap="round" filter="url(#rough)"/><g filter="url(#rough)"><path d="M89 211h0M134 213h0M67 196h0M132 135h0M121 126h0M106 216h0M44 178h0M137 196h0M50 123h0M62 197h0M33 150h0M51 125h0M49 126h0M137 150h0M135 195h0M142 153h0M136 206h0M141 155h0M134 141h0M76 204h0M43 175h0M138 207h0M35 161h0M35 169h0M33 159h0M57 192h0M105 110h0M143 155h0M86 211h0M30 158h0M37 170h0M69 114h0M102 218h0M60 194h0" stroke="#6068c0" stroke-width="4.4" stroke-linecap="round" fill="none" opacity="0.6"/><path d="M32 76h0M11 64h0M6 57h0M6 57h0M2 58h0M2 57h0M20 69h0M26 73h0M6 63h0M21 68h0" stroke="#6a50a8" stroke-width="4.8" stroke-linecap="round" fill="none" opacity="0.7"/><path d="M205 9h0M210 14h0M213 10h0M200 9h0M140 7h0M226 12h0M178 10h0M198 9h0M236 16h0M207 15h0M220 12h0M186 8h0" stroke="#5860c0" stroke-width="4.6" stroke-linecap="round" fill="none" opacity="0.65"/><path d="M141 172h0M126 215h0M36 171h0M102 217h0M127 216h0M138 169h0M138 144h0M126 131h0M125 215h0M139 199h0M143 167h0M131 215h0M138 166h0M78 109h0M103 220h0M35 150h0M105 221h0M66 201h0M122 127h0M31 165h0M54 122h0M96 217h0M135 149h0M137 140h0M42 177h0M112 109h0" stroke="#c06458" stroke-width="4.0" stroke-linecap="round" fill="none" opacity="0.5"/><path d="M6 64h0M5 55h0M34 76h0M12 65h0M30 76h0M7 65h0" stroke="#c84860" stroke-width="4.8" stroke-linecap="round" fill="none" opacity="0.6"/><path d="M201 9h0M208 9h0M214 11h0M227 18h0M195 7h0M170 7h0M187 11h0M169 8h0" stroke="#c07050" stroke-width="4.4" stroke-linecap="round" fill="none" opacity="0.55"/></g><g filter="url(#bl1)"><ellipse cx="56" cy="184" rx="7" ry="11" fill="#eee6d2" transform="rotate(-20 56 184)"/><ellipse cx="66" cy="114" rx="13" ry="2.6" fill="#f0ead8" transform="rotate(-22 66 114)"/><ellipse cx="68" cy="217" rx="7" ry="4.5" fill="#efe8d6" transform="rotate(-30 68 217)"/><ellipse cx="193" cy="70" rx="6" ry="6" fill="#e6e2c8" opacity="0.8"/><ellipse cx="66" cy="24" rx="3.5" ry="15" fill="#e8e0cc" opacity="0.8" transform="rotate(-30 66 24)"/><circle cx="104" cy="117" r="4.5" fill="#6068cc" opacity="0.7"/><ellipse cx="226" cy="216" rx="3" ry="8" fill="#e8e0d8" opacity="0.8"/></g></g></g><rect x="342.20" y="735.00" width="235.50" height="235.30" fill="none" stroke="#22222c" stroke-width="3.2"/><path d="M515.3 959.5H572" stroke="#000" stroke-width="5.4"/>
<clipPath id="cp7"><rect x="97.3" y="978.3" width="237.3" height="236.2"/></clipPath><rect x="96.3" y="977.3" width="239.3" height="238.2" filter="url(#fB3)"/><g clip-path="url(#cp7)"><g transform="translate(96.3 977.3)"><ellipse cx="110" cy="80" rx="60" ry="40" fill="#c6c6de" opacity="0.4" filter="url(#bl4)"/><g filter="url(#bl08)"><path d="M92 57h0M42 215h0M138 163h0M132 92h0M173 137h0M185 156h0M199 105h0M39 38h0M171 42h0M156 147h0M17 185h0M11 204h0M199 53h0M172 173h0M32 158h0M32 215h0M164 230h0M15 77h0M147 144h0M45 209h0M200 73h0M37 158h0M98 157h0M118 95h0M8 34h0M110 172h0M102 176h0M129 207h0M156 78h0M35 18h0M12 203h0M207 177h0M28 156h0M33 209h0M156 177h0M145 100h0M201 226h0M59 104h0M174 161h0M99 107h0M228 67h0M52 162h0M68 211h0M79 218h0M91 208h0M178 173h0M53 41h0M10 45h0M158 18h0M58 135h0M39 79h0M56 160h0M31 234h0M143 168h0M132 118h0M229 210h0M195 10h0M140 221h0M152 122h0M154 44h0M173 185h0M20 121h0M142 85h0M162 217h0M214 74h0M38 201h0M146 195h0M205 68h0M140 73h0M189 163h0M59 119h0M141 57h0M46 113h0M20 118h0M222 195h0M16 195h0M170 167h0M9 179h0M49 189h0M78 88h0M43 204h0M55 205h0M123 37h0M156 126h0M9 194h0M66 9h0M182 172h0M93 46h0M126 139h0M164 117h0M135 170h0M47 45h0M116 178h0M190 201h0M105 169h0M28 93h0M19 197h0M236 158h0M178 89h0M188 23h0M89 84h0M204 43h0M40 24h0M199 76h0M213 76h0M198 48h0M213 229h0M208 164h0M212 215h0M228 67h0M201 184h0M84 42h0M213 113h0M127 209h0M116 62h0M163 127h0M66 164h0M214 60h0M192 178h0M125 48h0M158 68h0M61 201h0M66 24h0M200 234h0M74 97h0M130 178h0M6 153h0M57 219h0M100 222h0M108 155h0M12 50h0M72 89h0M43 101h0M24 134h0M227 202h0M148 231h0M173 150h0M110 22h0M211 211h0M191 163h0M192 225h0M229 182h0M7 223h0M135 108h0M103 66h0M11 146h0M147 23h0M218 213h0M204 128h0M93 112h0M89 225h0M217 211h0M124 122h0M163 70h0M46 232h0M66 66h0M118 23h0M125 40h0M196 22h0M190 65h0M187 189h0M226 43h0M232 37h0M85 5h0M118 22h0M132 219h0M185 153h0M24 232h0M88 223h0M37 72h0M224 176h0M46 109h0M129 61h0M54 22h0M122 99h0M85 114h0M84 93h0M181 37h0M25 107h0M70 113h0M203 223h0M193 217h0M57 83h0M29 70h0M64 59h0M81 221h0M123 212h0M126 177h0M159 140h0M218 141h0M120 56h0M26 102h0M98 33h0M225 7h0M106 60h0M98 197h0M228 95h0M169 210h0M71 95h0M104 197h0M74 211h0M46 161h0M150 11h0M79 197h0M97 16h0M113 128h0M112 101h0M222 159h0M106 107h0M182 58h0M115 179h0M24 37h0M15 158h0M189 157h0M147 10h0M88 110h0M81 61h0M90 56h0M19 136h0M9 104h0M97 191h0M168 109h0M4 168h0M172 151h0M234 117h0M95 127h0M27 148h0M34 158h0M146 162h0M46 168h0M223 232h0M181 40h0M183 44h0M231 10h0M7 96h0M21 224h0M220 63h0M206 84h0M194 32h0M222 106h0M58 106h0M3 12h0M114 141h0M235 124h0M81 64h0M8 216h0M166 64h0M179 163h0M152 108h0M206 218h0M180 46h0M107 152h0M225 120h0M115 19h0M18 65h0M161 53h0M179 152h0M70 124h0M197 10h0M149 177h0M228 80h0M151 190h0M74 183h0M178 224h0M100 28h0M123 160h0M216 178h0M130 202h0M201 145h0M66 5h0M140 6h0M85 233h0M63 163h0M174 78h0M143 208h0M172 81h0M235 159h0M59 190h0M186 207h0M198 188h0M94 178h0M181 194h0M53 232h0M137 214h0M123 184h0M144 71h0M117 194h0M68 218h0M173 186h0M126 167h0M151 99h0M3 133h0M164 132h0M96 130h0M27 152h0M18 34h0M22 224h0M215 148h0M221 52h0M157 113h0" stroke="#8c98c8" stroke-width="2.8" stroke-linecap="round" fill="none" opacity="0.4"/><path d="M28 137h0M29 68h0M36 60h0M212 117h0M131 37h0M38 27h0M166 137h0M176 139h0M61 95h0M88 218h0M167 196h0M156 226h0M181 3h0M22 12h0M211 52h0M111 139h0M55 67h0M209 45h0M197 112h0M164 94h0M161 166h0M101 72h0M103 176h0M6 51h0M85 165h0M122 55h0M208 136h0M210 91h0M224 138h0M84 39h0M190 43h0M194 191h0M34 172h0M166 25h0M180 223h0M81 126h0M99 58h0M41 157h0M228 32h0M8 128h0M65 204h0M71 8h0M75 98h0M104 98h0M69 226h0M6 55h0M194 50h0M52 94h0M150 194h0M186 44h0M220 44h0M191 202h0M30 91h0M53 110h0M185 189h0M180 10h0M70 217h0M175 180h0M44 39h0M117 144h0M32 206h0M136 218h0M214 96h0M67 197h0M119 142h0M171 230h0M123 109h0M203 21h0M105 54h0M145 194h0M102 51h0M31 212h0M139 220h0M66 69h0M45 151h0M134 202h0M140 81h0M27 185h0M224 79h0M76 125h0M90 176h0M115 115h0M91 61h0M218 222h0M52 90h0M171 85h0M106 134h0M66 93h0M170 221h0M18 206h0M23 156h0M15 130h0M56 191h0M8 122h0M227 126h0M106 154h0M188 162h0M100 51h0M185 120h0M226 82h0M74 111h0M233 184h0M72 164h0M195 16h0M177 113h0M208 177h0M88 22h0M97 91h0M50 163h0M204 106h0M30 133h0M82 13h0M26 93h0M11 33h0M223 127h0M46 13h0M70 78h0M223 46h0M217 120h0M191 133h0M227 226h0M148 81h0M72 41h0M56 145h0M100 128h0M225 173h0M221 181h0M60 13h0M166 37h0M156 23h0M138 125h0M110 191h0M166 54h0M118 99h0M93 56h0M55 146h0M17 103h0M119 110h0M164 190h0M128 41h0M44 219h0M112 116h0M54 149h0M92 135h0M132 215h0M184 215h0M206 24h0M146 66h0M83 122h0M125 138h0M105 28h0M232 11h0M224 232h0M158 52h0M167 80h0M87 200h0M172 9h0M223 94h0M73 93h0M51 102h0M199 230h0M199 152h0M102 114h0M38 61h0M14 183h0M27 44h0M102 191h0M20 178h0M73 97h0M108 232h0M235 64h0M143 79h0M79 194h0M153 126h0M74 90h0M112 193h0M65 135h0M188 16h0M56 180h0M19 223h0M104 150h0M28 106h0M112 184h0M142 38h0M21 64h0M139 30h0M39 84h0M58 144h0M55 51h0M178 147h0M175 37h0M149 91h0M113 53h0M194 192h0M111 87h0M61 120h0M73 105h0M145 200h0M202 18h0M185 93h0M30 109h0M206 94h0M74 127h0M135 216h0M214 231h0M19 171h0M117 139h0M199 73h0M4 62h0M228 218h0M111 34h0M176 75h0M208 120h0M72 18h0M65 81h0M72 177h0M200 154h0M108 160h0M13 121h0M128 146h0M65 204h0M84 108h0M31 123h0M4 126h0M51 224h0M107 57h0M158 35h0M125 107h0M223 175h0M203 232h0M143 158h0M163 194h0M205 206h0M218 220h0M42 182h0M169 210h0M87 180h0M4 93h0M56 59h0M23 122h0" stroke="#d6e0e6" stroke-width="3.0" stroke-linecap="round" fill="none" opacity="0.4"/><path d="M35 16h0M146 184h0M79 13h0M206 85h0M93 212h0M38 155h0M88 143h0M108 50h0M222 125h0M46 110h0M143 216h0M73 28h0M112 200h0M10 216h0M118 113h0M148 174h0M155 217h0M146 76h0M98 99h0M54 74h0M90 222h0M211 174h0M169 63h0M88 50h0M194 161h0M155 8h0M173 187h0M125 179h0M192 151h0M77 133h0M208 26h0M196 82h0M164 31h0M109 235h0M139 114h0M76 89h0" stroke="#7880c8" stroke-width="3.4" stroke-linecap="round" fill="none" opacity="0.45"/></g><path d="M48 100L66 98L80 102L104 114L124 125L139 125L159 123L175 139L185 147" stroke="#a87888" stroke-width="4" fill="none" opacity="0.5" stroke-linejoin="round" stroke-linecap="round" filter="url(#rough)"/><path d="M159 123L165 100L169 80L163 60L159 40" stroke="#b48c94" stroke-width="3.4" fill="none" opacity="0.4" stroke-linejoin="round" stroke-linecap="round" filter="url(#rough)"/><path d="M80 50L119 30L139 20" stroke="#c8a8b4" stroke-width="4" fill="none" opacity="0.35" stroke-linejoin="round" stroke-linecap="round" filter="url(#rough)"/><g filter="url(#rough)"><path d="M102 116h0M176 139h0M61 99h0M136 127h0M185 147h0M173 136h0M184 144h0M161 124h0M57 98h0M48 98h0M72 98h0M92 107h0M186 149h0M142 126h0M105 116h0M108 117h0M168 130h0M142 122h0M122 125h0M173 134h0" stroke="#6068c0" stroke-width="4.4" stroke-linecap="round" fill="none" opacity="0.6"/><path d="M57 98h0M176 138h0M154 126h0M179 144h0M131 126h0M127 127h0M85 103h0M68 97h0M90 106h0M119 123h0M54 100h0M117 122h0" stroke="#c06868" stroke-width="4" stroke-linecap="round" fill="none" opacity="0.5"/><path d="M80 88h0M78 94h0M84 90h0M183 146h0M180 140h0M97 231h0" stroke="#6068c8" stroke-width="5.6" stroke-linecap="round" fill="none" opacity="0.7"/></g></g></g><rect x="97.90" y="978.90" width="236.10" height="235.00" fill="none" stroke="#22222c" stroke-width="3.2"/><path d="M268.2 1202.8H325.6" stroke="#000" stroke-width="5.4"/>
<clipPath id="cp8"><rect x="341.6" y="978.3" width="236.7" height="236.2"/></clipPath><rect x="340.6" y="977.3" width="238.7" height="238.2" filter="url(#fB4)"/><g clip-path="url(#cp8)"><g transform="translate(340.6 977.3)"><g filter="url(#bl08)"><path d="M60 120h0M41 194h0M57 131h0M219 95h0M229 173h0M131 149h0M140 87h0M235 97h0M232 201h0M10 63h0M114 192h0M44 146h0M89 185h0M219 180h0M48 179h0M105 197h0M113 213h0M233 194h0M195 193h0M141 44h0M233 111h0M7 104h0M100 50h0M227 29h0M214 131h0M45 86h0M108 30h0M181 154h0M232 196h0M186 234h0M220 152h0M129 125h0M193 218h0M197 198h0M9 101h0M23 139h0M138 133h0M203 55h0M173 139h0M53 230h0M15 111h0M128 141h0M232 131h0M210 71h0M115 37h0M152 101h0M186 29h0M111 225h0M6 156h0M161 171h0M133 119h0M227 69h0M167 158h0M173 114h0M7 183h0M68 184h0M233 183h0M97 202h0M93 77h0M136 155h0M163 131h0M98 175h0M79 144h0M4 33h0M205 53h0M99 15h0M181 79h0M14 67h0M220 178h0M4 224h0M20 115h0M128 185h0M36 194h0M67 174h0M219 140h0M3 158h0M104 172h0M186 28h0M135 152h0M219 145h0M146 181h0M40 202h0M138 151h0M39 124h0M98 51h0M222 199h0M110 20h0M232 30h0M121 134h0M202 155h0M144 122h0M231 193h0M86 187h0M224 116h0M23 19h0M228 51h0M190 48h0M55 40h0M193 24h0M113 191h0M126 5h0M7 196h0M73 22h0M125 185h0M74 34h0M46 113h0M185 22h0M180 161h0M133 92h0M10 120h0M99 161h0M18 41h0M7 116h0M17 127h0M105 80h0M47 217h0M115 27h0M138 180h0M117 210h0M198 161h0M9 96h0M122 42h0M119 158h0M178 179h0M177 73h0M146 119h0M180 31h0M44 169h0M172 56h0M182 183h0M154 110h0M16 56h0M181 219h0M41 12h0M84 221h0M53 220h0M186 198h0M234 160h0M49 104h0M96 157h0M85 173h0M10 55h0M55 43h0M178 206h0M25 114h0M5 60h0M37 164h0M198 198h0M67 98h0M57 157h0M56 181h0M113 131h0M206 217h0M65 172h0M67 6h0M201 47h0M69 170h0M201 93h0M170 95h0M7 131h0M43 52h0M98 152h0M54 54h0M136 67h0M134 159h0M75 211h0M228 12h0M18 28h0M117 73h0M174 232h0M109 67h0M54 214h0M193 207h0M236 108h0M177 81h0M36 164h0M89 128h0M135 59h0M8 176h0M180 180h0M79 81h0M149 89h0M177 124h0M126 201h0M30 52h0M125 201h0M217 206h0M49 76h0M61 56h0M45 38h0M193 124h0M229 148h0M180 219h0M131 56h0M98 106h0M41 131h0M183 79h0M9 26h0M88 49h0M112 228h0M57 85h0M143 41h0M206 231h0M6 94h0M191 7h0M133 191h0M225 47h0M219 142h0M175 56h0M14 114h0M232 62h0M232 231h0M113 108h0M223 9h0M138 43h0M176 117h0M146 93h0M206 195h0M9 134h0M53 219h0M216 187h0M159 212h0M61 71h0M215 154h0M71 199h0M158 6h0M221 174h0M174 22h0M7 21h0M180 12h0M70 79h0M99 68h0M26 123h0M19 96h0M69 23h0M24 173h0M20 119h0M147 214h0M145 185h0M206 30h0M15 191h0M66 113h0M78 40h0M95 112h0M195 55h0M27 143h0M204 100h0M71 207h0M198 10h0M29 140h0M96 117h0M99 30h0M181 209h0M145 74h0M166 70h0M29 142h0M137 210h0M100 33h0M135 16h0M67 229h0M90 87h0M227 24h0M182 173h0M216 33h0M108 90h0M6 42h0M36 19h0M167 168h0M94 193h0M197 197h0M51 86h0M38 13h0M233 134h0M158 130h0M67 7h0M72 100h0M17 62h0M211 19h0M142 100h0M168 142h0" stroke="#98a0d0" stroke-width="2.8" stroke-linecap="round" fill="none" opacity="0.35"/><path d="M98 235h0M185 103h0M201 183h0M232 104h0M50 118h0M155 106h0M26 119h0M15 15h0M163 61h0M215 211h0M179 30h0M56 119h0M135 110h0M3 43h0M219 98h0M122 216h0M57 98h0M155 62h0M101 180h0M189 174h0M188 6h0M20 141h0M175 15h0M99 133h0M85 8h0M130 137h0M135 44h0M76 11h0M128 52h0M119 212h0M113 65h0M163 178h0M65 128h0M180 40h0M169 72h0M98 135h0M232 58h0M67 234h0M23 58h0M162 114h0M187 46h0M191 71h0M39 133h0M62 91h0M207 197h0M162 133h0M7 83h0M183 181h0M4 106h0M164 139h0M106 72h0M116 10h0M215 15h0M47 224h0M136 34h0M59 107h0M28 5h0M14 17h0M63 143h0M46 117h0M84 112h0M117 68h0M149 220h0M146 221h0M120 127h0M91 104h0M113 233h0M116 157h0M182 24h0M10 99h0M50 105h0M54 132h0M103 54h0M176 227h0M69 125h0M86 215h0M57 7h0M213 174h0M113 13h0M79 114h0M135 51h0M82 34h0M47 45h0M99 134h0M192 38h0M208 59h0M11 148h0M213 222h0M118 226h0M214 113h0M157 174h0M192 18h0M96 7h0M13 108h0M33 11h0M233 28h0M192 111h0M104 126h0M151 35h0M220 218h0M184 105h0M145 13h0M93 155h0M149 201h0M49 223h0M14 33h0M192 7h0M234 161h0M66 104h0M26 114h0M37 178h0M224 129h0M101 191h0M217 73h0M167 225h0M156 30h0M207 37h0M88 64h0M90 187h0M42 105h0M101 196h0M104 96h0M55 135h0M184 64h0M172 56h0M45 22h0M55 90h0M69 110h0M155 164h0M5 51h0M154 217h0M33 135h0M38 225h0M233 177h0M133 188h0M200 75h0M214 123h0M41 23h0M113 4h0M181 75h0M201 193h0M106 228h0M95 62h0M159 219h0M195 87h0M47 120h0M230 85h0M68 231h0M194 111h0M143 26h0M142 125h0M54 59h0M43 24h0M127 83h0M133 193h0M25 182h0M73 195h0M31 223h0M127 161h0M111 112h0M4 39h0M210 119h0M62 205h0M206 189h0M90 80h0M168 91h0M163 35h0M44 86h0M212 66h0M125 20h0M142 37h0M108 127h0M185 179h0M118 229h0M97 99h0M203 185h0M36 87h0M209 228h0M94 11h0M200 78h0M115 185h0M59 203h0M79 96h0M48 143h0M43 231h0M171 13h0M8 48h0M176 141h0M172 134h0M106 128h0M172 83h0M182 220h0M172 80h0M127 113h0M117 14h0M24 151h0M89 97h0M187 71h0M103 22h0M27 224h0M206 131h0M181 122h0M124 233h0M25 156h0M111 168h0M56 64h0M35 194h0M17 51h0M93 206h0M164 179h0M68 104h0M201 69h0M85 68h0M100 4h0M22 19h0M103 159h0M200 207h0M51 114h0M126 170h0M171 99h0M191 150h0M151 223h0M197 32h0M173 6h0" stroke="#dce2ea" stroke-width="3.0" stroke-linecap="round" fill="none" opacity="0.4"/></g><path d="M151 185L179 167L199 155L235 119" stroke="#9a7890" stroke-width="3.6" fill="none" opacity="0.42" stroke-linejoin="round" stroke-linecap="round" filter="url(#rough)"/><path d="M100 84L110 78L119 72" stroke="#c06878" stroke-width="3.4" fill="none" opacity="0.45" stroke-linejoin="round" stroke-linecap="round" filter="url(#rough)"/><path d="M74 179L90 200L70 215" stroke="#c8a4b4" stroke-width="3.6" fill="none" opacity="0.3" stroke-linejoin="round" stroke-linecap="round" filter="url(#rough)"/><g filter="url(#rough)"><path d="M198 157h0M158 177h0M228 124h0M149 186h0M160 178h0M226 130h0M225 126h0M182 165h0M170 176h0M183 166h0" stroke="#5860b0" stroke-width="4.2" stroke-linecap="round" fill="none" opacity="0.55"/></g><g filter="url(#bl1)"><ellipse cx="118.5" cy="153.5" rx="21" ry="11" fill="#9a6a70" opacity="0.7" transform="rotate(18 118.5 153.5)"/><ellipse cx="119" cy="153.5" rx="18.5" ry="8.6" fill="#f1ebd6" transform="rotate(18 119 153.5)"/></g></g></g><rect x="342.20" y="978.90" width="235.50" height="235.00" fill="none" stroke="#22222c" stroke-width="3.2"/><path d="M512.3 1202.8H570" stroke="#000" stroke-width="5.4"/>
<text transform="translate(15.80 54.00) scale(0.5106 0.5536)" font-size="100">A</text>
<text transform="translate(149.95 52.60) scale(0.4297 0.4400)" font-size="100">Con</text>
<text transform="translate(378.35 52.60) scale(0.4317 0.4400)" font-size="100">Mod</text>
<text transform="translate(107.15 593.50) scale(0.4186 0.4360)" font-size="100">15 mg/kg</text>
<text transform="translate(344.11 593.50) scale(0.4237 0.4360)" font-size="100">30 mg/kg</text>
<text transform="translate(13.34 723.90) scale(0.5698 0.5536)" font-size="100">B</text>
<text transform="translate(170.03 720.10) scale(0.4331 0.4350)" font-size="100">Con</text>
<text transform="translate(410.57 720.10) scale(0.4283 0.4350)" font-size="100">Mod</text>
<text transform="translate(127.15 1262.10) scale(0.4186 0.4360)" font-size="100">15 mg/kg</text>
<text transform="translate(365.21 1262.10) scale(0.4227 0.4360)" font-size="100">30 mg/kg</text>
<g stroke="#000" stroke-width="5.4" stroke-linecap="round" stroke-linejoin="round" fill="none">
<path d="M791.2 29.9H806.3V552.7" stroke-width="5.6"/>
<path d="M791 552.7H1186.3" stroke-width="5.6"/>
<path d="M791.2 447.5H806" stroke-width="5"/>
<path d="M791.2 343.1H806" stroke-width="5"/>
<path d="M791.2 238.7H806" stroke-width="5"/>
<path d="M791.2 134.3H806" stroke-width="5"/>
<path d="M853.2 552.7V566.9" stroke-width="5.2"/>
<path d="M948 552.7V566.9" stroke-width="5.2"/>
<path d="M1042.5 552.7V566.9" stroke-width="5.2"/>
<path d="M1137.7 552.7V566.9" stroke-width="5.2"/>
</g>
<path d="M852.9 533.6V526.5M837.1 526.5H868.7" stroke="#000" stroke-width="4.8" stroke-linecap="round" fill="none"/>
<rect x="821.3" y="531.6" width="63.2" height="21.1" fill="#000"/>
<path d="M947.8 107.3V92.8M932.0 92.8H963.6" stroke="#000" stroke-width="4.8" stroke-linecap="round" fill="none"/>
<rect x="916.3" y="105.3" width="63.0" height="447.4" fill="#525252"/>
<path d="M1042.7 356.4V348.3M1026.9 348.3H1058.5" stroke="#000" stroke-width="4.8" stroke-linecap="round" fill="none"/>
<rect x="1011" y="354.4" width="63.3" height="198.3" fill="#2c2c2c"/>
<path d="M1138.2 397.5V385.6M1122.4 385.6H1154.0" stroke="#000" stroke-width="4.8" stroke-linecap="round" fill="none"/>
<rect x="1106.3" y="395.5" width="63.7" height="157.2" fill="#5f5f5f"/>
<path d="M791 552.7H1186.3" stroke="#000" stroke-width="5.6" stroke-linecap="round"/>
<text transform="translate(751.52 568.36) scale(0.3937 0.4366)" font-size="100">0</text>
<text transform="translate(726.37 463.96) scale(0.4265 0.4366)" font-size="100">20</text>
<text transform="translate(726.65 359.56) scale(0.4238 0.4366)" font-size="100">40</text>
<text transform="translate(726.37 255.16) scale(0.4265 0.4366)" font-size="100">60</text>
<text transform="translate(726.81 150.76) scale(0.4223 0.4366)" font-size="100">80</text>
<text transform="translate(704.07 46.36) scale(0.4168 0.4366)" font-size="100">100</text>
<text transform="translate(802.83 620.18) scale(0.4331 0.4197)" font-size="100">Con</text>
<text transform="translate(907.58 620.20) scale(0.4272 0.4027)" font-size="100">Mod</text>
<text transform="translate(1020.97 620.17) scale(0.4162 0.4257)" font-size="100">15</text>
<text transform="translate(1112.88 620.18) scale(0.4311 0.4197)" font-size="100">30</text>
<text transform="translate(925.50 89.99) scale(0.4000 0.3143)" font-size="100" stroke="#111" stroke-width="3.2" stroke-linejoin="round">***</text>
<text transform="translate(1006.25 338.84) scale(0.4297 0.4490)" font-size="100">+++</text>
<text transform="translate(1097.34 376.26) scale(0.4321 0.4510)" font-size="100">+++</text>
<text transform="translate(686.30 533.25) rotate(-90) scale(0.4233 0.4400)" font-size="100">TUNEL positive cells (%)</text>
<g stroke="#000" stroke-width="5.4" stroke-linecap="round" stroke-linejoin="round" fill="none">
<path d="M791.2 692.9H806.3V1215.4" stroke-width="5.6"/>
<path d="M791 1215.4H1186.3" stroke-width="5.6"/>
<path d="M791.2 1110.5H806" stroke-width="5"/>
<path d="M791.2 1006.1H806" stroke-width="5"/>
<path d="M791.2 901.7H806" stroke-width="5"/>
<path d="M791.2 797.3H806" stroke-width="5"/>
<path d="M853.2 1215.4V1229.6" stroke-width="5.2"/>
<path d="M948 1215.4V1229.6" stroke-width="5.2"/>
<path d="M1042.5 1215.4V1229.6" stroke-width="5.2"/>
<path d="M1137.7 1215.4V1229.6" stroke-width="5.2"/>
</g>
<path d="M852.8 1138.6V1110.8M837.0 1110.8H868.6" stroke="#000" stroke-width="4.8" stroke-linecap="round" fill="none"/>
<rect x="821.3" y="1136.6" width="63.1" height="78.8" fill="#000"/>
<path d="M947.8 760.5V745.3M932.0 745.3H963.6" stroke="#000" stroke-width="4.8" stroke-linecap="round" fill="none"/>
<rect x="916.3" y="758.5" width="63.0" height="456.9" fill="#525252"/>
<path d="M1042.7 872.2V859.9M1026.9 859.9H1058.5" stroke="#000" stroke-width="4.8" stroke-linecap="round" fill="none"/>
<rect x="1011" y="870.2" width="63.3" height="345.2" fill="#2c2c2c"/>
<path d="M1138.2 1032.0V1022.0M1122.4 1022.0H1154.0" stroke="#000" stroke-width="4.8" stroke-linecap="round" fill="none"/>
<rect x="1106.3" y="1030.0" width="63.7" height="185.4" fill="#5f5f5f"/>
<path d="M791 1215.4H1186.3" stroke="#000" stroke-width="5.6" stroke-linecap="round"/>
<text transform="translate(751.58 1231.36) scale(0.4292 0.4366)" font-size="100">0</text>
<text transform="translate(751.06 1127.40) scale(0.4478 0.4429)" font-size="100">2</text>
<text transform="translate(750.62 1023.46) scale(0.4392 0.4559)" font-size="100">4</text>
<text transform="translate(751.06 918.16) scale(0.4478 0.4366)" font-size="100">6</text>
<text transform="translate(751.55 813.76) scale(0.4383 0.4366)" font-size="100">8</text>
<text transform="translate(728.29 709.36) scale(0.4263 0.4366)" font-size="100">10</text>
<text transform="translate(801.84 1277.38) scale(0.4326 0.4225)" font-size="100">Con</text>
<text transform="translate(905.66 1277.39) scale(0.4300 0.4054)" font-size="100">Mod</text>
<text transform="translate(1019.52 1277.37) scale(0.4222 0.4286)" font-size="100">15</text>
<text transform="translate(1112.30 1277.38) scale(0.4252 0.4225)" font-size="100">30</text>
<text transform="translate(925.50 744.29) scale(0.4000 0.3143)" font-size="100" stroke="#111" stroke-width="3.2" stroke-linejoin="round">***</text>
<text transform="translate(1031.45 849.87) scale(0.4500 0.4408)" font-size="100">+</text>
<text transform="translate(1112.62 1012.90) scale(0.4364 0.4449)" font-size="100">++</text>
<text transform="translate(689.80 1186.30) rotate(-90) scale(0.4243 0.4400)" font-size="100">Apaf-1 positive cells (%)</text>
</svg>
</body></html>
